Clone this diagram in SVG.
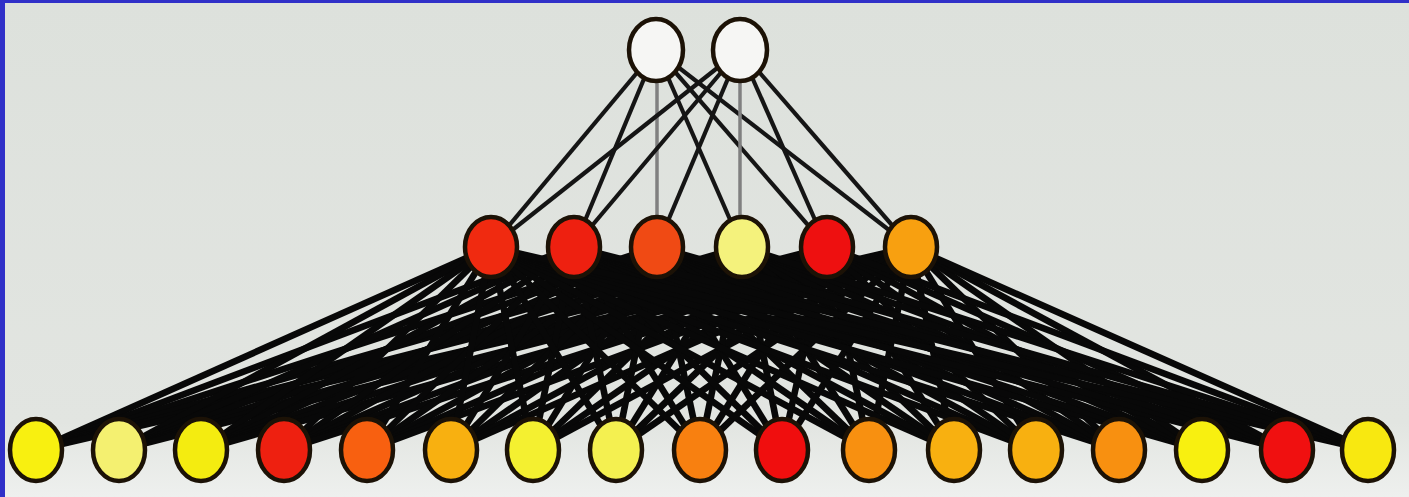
<svg xmlns="http://www.w3.org/2000/svg" width="1409" height="497" viewBox="0 0 1409 497">
<style>
.e{stroke:#080808;stroke-width:6.6;fill:none}
.t{stroke:#151515;stroke-width:4.2;fill:none}
.v{stroke:#808080;stroke-width:3.5;fill:none}
.n{stroke:#1c1206;stroke-width:4.5}
</style>
<defs>
<linearGradient id="bg" x1="0" y1="0" x2="0" y2="1">
<stop offset="0" stop-color="#dde1dc"/>
<stop offset="0.85" stop-color="#e2e5e1"/>
<stop offset="1" stop-color="#eef0ee"/>
</linearGradient>
</defs>
<rect x="0" y="0" width="1409" height="497" fill="url(#bg)"/>
<rect x="0" y="0" width="1409" height="3" fill="#3030c8"/>
<rect x="0" y="0" width="5" height="497" fill="#3030c8"/>
<g id="connectors">
<line class="t" x1="656" y1="50" x2="491" y2="247"/><line class="t" x1="656" y1="50" x2="574" y2="247"/><line class="v" x1="657" y1="50" x2="657" y2="247"/><line class="t" x1="656" y1="50" x2="742" y2="247"/><line class="t" x1="656" y1="50" x2="827" y2="247"/><line class="t" x1="656" y1="50" x2="911" y2="247"/>
<line class="t" x1="740" y1="50" x2="491" y2="247"/><line class="t" x1="740" y1="50" x2="574" y2="247"/><line class="t" x1="740" y1="50" x2="657" y2="247"/><line class="v" x1="740" y1="50" x2="740" y2="247"/><line class="t" x1="740" y1="50" x2="827" y2="247"/><line class="t" x1="740" y1="50" x2="911" y2="247"/>
<line class="e" x1="36" y1="450" x2="491" y2="247"/><line class="e" x1="36" y1="450" x2="574" y2="247"/><line class="e" x1="36" y1="450" x2="657" y2="247"/><line class="e" x1="36" y1="450" x2="742" y2="247"/><line class="e" x1="36" y1="450" x2="827" y2="247"/><line class="e" x1="36" y1="450" x2="911" y2="247"/>
<line class="e" x1="119" y1="450" x2="491" y2="247"/><line class="e" x1="119" y1="450" x2="574" y2="247"/><line class="e" x1="119" y1="450" x2="657" y2="247"/><line class="e" x1="119" y1="450" x2="742" y2="247"/><line class="e" x1="119" y1="450" x2="827" y2="247"/><line class="e" x1="119" y1="450" x2="911" y2="247"/>
<line class="e" x1="201" y1="450" x2="491" y2="247"/><line class="e" x1="201" y1="450" x2="574" y2="247"/><line class="e" x1="201" y1="450" x2="657" y2="247"/><line class="e" x1="201" y1="450" x2="742" y2="247"/><line class="e" x1="201" y1="450" x2="827" y2="247"/><line class="e" x1="201" y1="450" x2="911" y2="247"/>
<line class="e" x1="284" y1="450" x2="491" y2="247"/><line class="e" x1="284" y1="450" x2="574" y2="247"/><line class="e" x1="284" y1="450" x2="657" y2="247"/><line class="e" x1="284" y1="450" x2="742" y2="247"/><line class="e" x1="284" y1="450" x2="827" y2="247"/><line class="e" x1="284" y1="450" x2="911" y2="247"/>
<line class="e" x1="367" y1="450" x2="491" y2="247"/><line class="e" x1="367" y1="450" x2="574" y2="247"/><line class="e" x1="367" y1="450" x2="657" y2="247"/><line class="e" x1="367" y1="450" x2="742" y2="247"/><line class="e" x1="367" y1="450" x2="827" y2="247"/><line class="e" x1="367" y1="450" x2="911" y2="247"/>
<line class="e" x1="451" y1="450" x2="491" y2="247"/><line class="e" x1="451" y1="450" x2="574" y2="247"/><line class="e" x1="451" y1="450" x2="657" y2="247"/><line class="e" x1="451" y1="450" x2="742" y2="247"/><line class="e" x1="451" y1="450" x2="827" y2="247"/><line class="e" x1="451" y1="450" x2="911" y2="247"/>
<line class="e" x1="533" y1="450" x2="491" y2="247"/><line class="e" x1="533" y1="450" x2="574" y2="247"/><line class="e" x1="533" y1="450" x2="657" y2="247"/><line class="e" x1="533" y1="450" x2="742" y2="247"/><line class="e" x1="533" y1="450" x2="827" y2="247"/><line class="e" x1="533" y1="450" x2="911" y2="247"/>
<line class="e" x1="616" y1="450" x2="491" y2="247"/><line class="e" x1="616" y1="450" x2="574" y2="247"/><line class="e" x1="616" y1="450" x2="657" y2="247"/><line class="e" x1="616" y1="450" x2="742" y2="247"/><line class="e" x1="616" y1="450" x2="827" y2="247"/><line class="e" x1="616" y1="450" x2="911" y2="247"/>
<line class="e" x1="700" y1="450" x2="491" y2="247"/><line class="e" x1="700" y1="450" x2="574" y2="247"/><line class="e" x1="700" y1="450" x2="657" y2="247"/><line class="e" x1="700" y1="450" x2="742" y2="247"/><line class="e" x1="700" y1="450" x2="827" y2="247"/><line class="e" x1="700" y1="450" x2="911" y2="247"/>
<line class="e" x1="782" y1="450" x2="491" y2="247"/><line class="e" x1="782" y1="450" x2="574" y2="247"/><line class="e" x1="782" y1="450" x2="657" y2="247"/><line class="e" x1="782" y1="450" x2="742" y2="247"/><line class="e" x1="782" y1="450" x2="827" y2="247"/><line class="e" x1="782" y1="450" x2="911" y2="247"/>
<line class="e" x1="869" y1="450" x2="491" y2="247"/><line class="e" x1="869" y1="450" x2="574" y2="247"/><line class="e" x1="869" y1="450" x2="657" y2="247"/><line class="e" x1="869" y1="450" x2="742" y2="247"/><line class="e" x1="869" y1="450" x2="827" y2="247"/><line class="e" x1="869" y1="450" x2="911" y2="247"/>
<line class="e" x1="954" y1="450" x2="491" y2="247"/><line class="e" x1="954" y1="450" x2="574" y2="247"/><line class="e" x1="954" y1="450" x2="657" y2="247"/><line class="e" x1="954" y1="450" x2="742" y2="247"/><line class="e" x1="954" y1="450" x2="827" y2="247"/><line class="e" x1="954" y1="450" x2="911" y2="247"/>
<line class="e" x1="1036" y1="450" x2="491" y2="247"/><line class="e" x1="1036" y1="450" x2="574" y2="247"/><line class="e" x1="1036" y1="450" x2="657" y2="247"/><line class="e" x1="1036" y1="450" x2="742" y2="247"/><line class="e" x1="1036" y1="450" x2="827" y2="247"/><line class="e" x1="1036" y1="450" x2="911" y2="247"/>
<line class="e" x1="1119" y1="450" x2="491" y2="247"/><line class="e" x1="1119" y1="450" x2="574" y2="247"/><line class="e" x1="1119" y1="450" x2="657" y2="247"/><line class="e" x1="1119" y1="450" x2="742" y2="247"/><line class="e" x1="1119" y1="450" x2="827" y2="247"/><line class="e" x1="1119" y1="450" x2="911" y2="247"/>
<line class="e" x1="1202" y1="450" x2="491" y2="247"/><line class="e" x1="1202" y1="450" x2="574" y2="247"/><line class="e" x1="1202" y1="450" x2="657" y2="247"/><line class="e" x1="1202" y1="450" x2="742" y2="247"/><line class="e" x1="1202" y1="450" x2="827" y2="247"/><line class="e" x1="1202" y1="450" x2="911" y2="247"/>
<line class="e" x1="1287" y1="450" x2="491" y2="247"/><line class="e" x1="1287" y1="450" x2="574" y2="247"/><line class="e" x1="1287" y1="450" x2="657" y2="247"/><line class="e" x1="1287" y1="450" x2="742" y2="247"/><line class="e" x1="1287" y1="450" x2="827" y2="247"/><line class="e" x1="1287" y1="450" x2="911" y2="247"/>
<line class="e" x1="1368" y1="450" x2="491" y2="247"/><line class="e" x1="1368" y1="450" x2="574" y2="247"/><line class="e" x1="1368" y1="450" x2="657" y2="247"/><line class="e" x1="1368" y1="450" x2="742" y2="247"/><line class="e" x1="1368" y1="450" x2="827" y2="247"/><line class="e" x1="1368" y1="450" x2="911" y2="247"/>
</g>
<g id="top1"><ellipse class="n" cx="656" cy="50" rx="27" ry="31" fill="#f6f6f4"/></g>
<g id="top2"><ellipse class="n" cx="740" cy="50" rx="27" ry="31" fill="#f6f6f4"/></g>
<g id="mid1"><ellipse class="n" cx="491" cy="247" rx="26" ry="30" fill="#f02a10"/></g>
<g id="mid2"><ellipse class="n" cx="574" cy="247" rx="26" ry="30" fill="#ee2010"/></g>
<g id="mid3"><ellipse class="n" cx="657" cy="247" rx="26" ry="30" fill="#f04a14"/></g>
<g id="mid4"><ellipse class="n" cx="742" cy="247" rx="26" ry="30" fill="#f4f27c"/></g>
<g id="mid5"><ellipse class="n" cx="827" cy="247" rx="26" ry="30" fill="#ee1010"/></g>
<g id="mid6"><ellipse class="n" cx="911" cy="247" rx="26" ry="30" fill="#f8a010"/></g>
<g id="bot1"><ellipse class="n" cx="36" cy="450" rx="26" ry="31" fill="#f8f010"/></g>
<g id="bot2"><ellipse class="n" cx="119" cy="450" rx="26" ry="31" fill="#f4f070"/></g>
<g id="bot3"><ellipse class="n" cx="201" cy="450" rx="26" ry="31" fill="#f4ec10"/></g>
<g id="bot4"><ellipse class="n" cx="284" cy="450" rx="26" ry="31" fill="#ee2010"/></g>
<g id="bot5"><ellipse class="n" cx="367" cy="450" rx="26" ry="31" fill="#f86010"/></g>
<g id="bot6"><ellipse class="n" cx="451" cy="450" rx="26" ry="31" fill="#f8b010"/></g>
<g id="bot7"><ellipse class="n" cx="533" cy="450" rx="26" ry="31" fill="#f4f030"/></g>
<g id="bot8"><ellipse class="n" cx="616" cy="450" rx="26" ry="31" fill="#f4f050"/></g>
<g id="bot9"><ellipse class="n" cx="700" cy="450" rx="26" ry="31" fill="#f88010"/></g>
<g id="bot10"><ellipse class="n" cx="782" cy="450" rx="26" ry="31" fill="#f00e0e"/></g>
<g id="bot11"><ellipse class="n" cx="869" cy="450" rx="26" ry="31" fill="#f89010"/></g>
<g id="bot12"><ellipse class="n" cx="954" cy="450" rx="26" ry="31" fill="#f8b010"/></g>
<g id="bot13"><ellipse class="n" cx="1036" cy="450" rx="26" ry="31" fill="#f8b010"/></g>
<g id="bot14"><ellipse class="n" cx="1119" cy="450" rx="26" ry="31" fill="#f89010"/></g>
<g id="bot15"><ellipse class="n" cx="1202" cy="450" rx="26" ry="31" fill="#f8f010"/></g>
<g id="bot16"><ellipse class="n" cx="1287" cy="450" rx="26" ry="31" fill="#f01010"/></g>
<g id="bot17"><ellipse class="n" cx="1368" cy="450" rx="26" ry="31" fill="#f8e810"/></g>
</svg>
